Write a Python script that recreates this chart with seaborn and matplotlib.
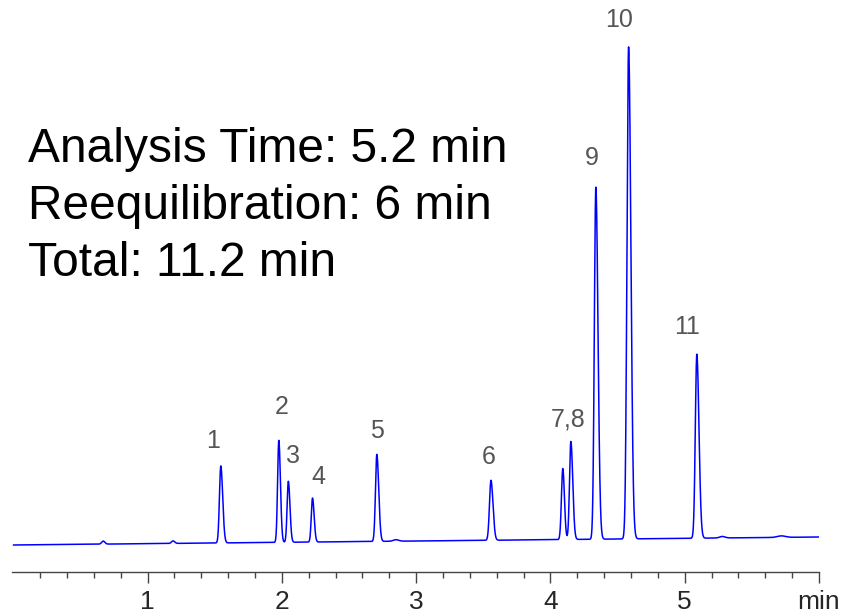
import numpy as np
import pandas as pd
import matplotlib
matplotlib.use("Agg")
import matplotlib.pyplot as plt
import seaborn as sns

# ---- data ----
peak_labels = ["1", "2", "3", "4", "5", "6", "7", "8", "9", "10", "11"]
peak_times = [1.545, 1.977, 2.048, 2.228, 2.707, 3.557, 4.092, 4.152, 4.338, 4.582, 5.090]
peak_heights = [77, 102, 61, 44, 87, 60, 71, 98, 352, 492, 184]
peak_sigma_left = [0.010, 0.009, 0.009, 0.009, 0.010, 0.011, 0.010, 0.010, 0.011, 0.012, 0.011]
peak_sigma_right = [0.014, 0.012, 0.012, 0.012, 0.014, 0.015, 0.012, 0.014, 0.016, 0.017, 0.016]

# small baseline disturbances (time, height, width)
blip_times = [0.67, 1.19, 2.85, 5.28, 5.72]
blip_heights = [3, 2.5, 1.5, 1.5, 1.5]
blip_widths = [0.012, 0.012, 0.02, 0.02, 0.03]

baseline_start = 0.0
baseline_end = 8.0

label_texts = ["1", "2", "3", "4", "5", "6", "7,8", "9", "10", "11"]
label_x = [1.484, 2.000, 2.082, 2.273, 2.705, 3.539, 4.128, 4.306, 4.514, 5.021]
label_y = [104, 138, 89, 68, 114, 88, 126, 387, 525, 218]

info_lines = ["Analysis Time: 5.2 min", "Reequilibration: 6 min", "Total: 11.2 min"]

tick_values = [1, 2, 3, 4, 5, 6]
tick_labels = ["1", "2", "3", "4", "5", "min"]

# ---- build the trace from the peak table ----
t = np.linspace(0, 6, 6001)
signal = np.linspace(baseline_start, baseline_end, t.size)
for tr, h, sl, sr in zip(peak_times, peak_heights, peak_sigma_left, peak_sigma_right):
    s = np.where(t < tr, sl, sr)
    signal = signal + h * np.exp(-0.5 * ((t - tr) / s) ** 2)
for tb, hb, wb in zip(blip_times, blip_heights, blip_widths):
    signal = signal + hb * np.exp(-0.5 * ((t - tb) / wb) ** 2)
df = pd.DataFrame({"time": t, "signal": signal})

# ---- plot ----
sns.set_style("white")
plt.rcParams["font.family"] = ["Liberation Sans", "DejaVu Sans"]

fig = plt.figure(figsize=(8.48, 6.13), dpi=100)
ax = fig.add_axes([12 / 848, 41 / 613, 807 / 848, 572 / 613])
sns.lineplot(data=df, x="time", y="signal", ax=ax, color="#0000ff", linewidth=1.1)

ax.set_xlim(-0.01, 6.0)
ax.set_ylim(-27, 545)

for txt, x, y in zip(label_texts, label_x, label_y):
    ax.text(x, y, txt, ha="center", va="center", fontsize=18, color="#555555")

for i, line in enumerate(info_lines):
    fig.text(28 / 848, 1 - (162 + 57 * i) / 613, line, fontsize=34.5,
             color="black", ha="left", va="baseline")

for side in ["top", "right", "left"]:
    ax.spines[side].set_visible(False)
ax.spines["bottom"].set_color("#444444")
ax.spines["bottom"].set_linewidth(1.0)
ax.set_yticks([])
ax.set_xticks(tick_values)
ax.set_xticklabels(tick_labels)
ax.set_xticks([v for v in np.arange(0.2, 6.0, 0.2) if abs(v - round(v)) > 1e-6], minor=True)
ax.tick_params(axis="x", which="major", direction="out", length=8, width=1,
               color="#444444", labelsize=19, pad=5, bottom=True)
ax.tick_params(axis="x", which="minor", direction="out", length=4, width=1,
               color="#444444", bottom=True)
ax.set_xlabel("")
ax.set_ylabel("")

fig.savefig("out.png", dpi=100)
